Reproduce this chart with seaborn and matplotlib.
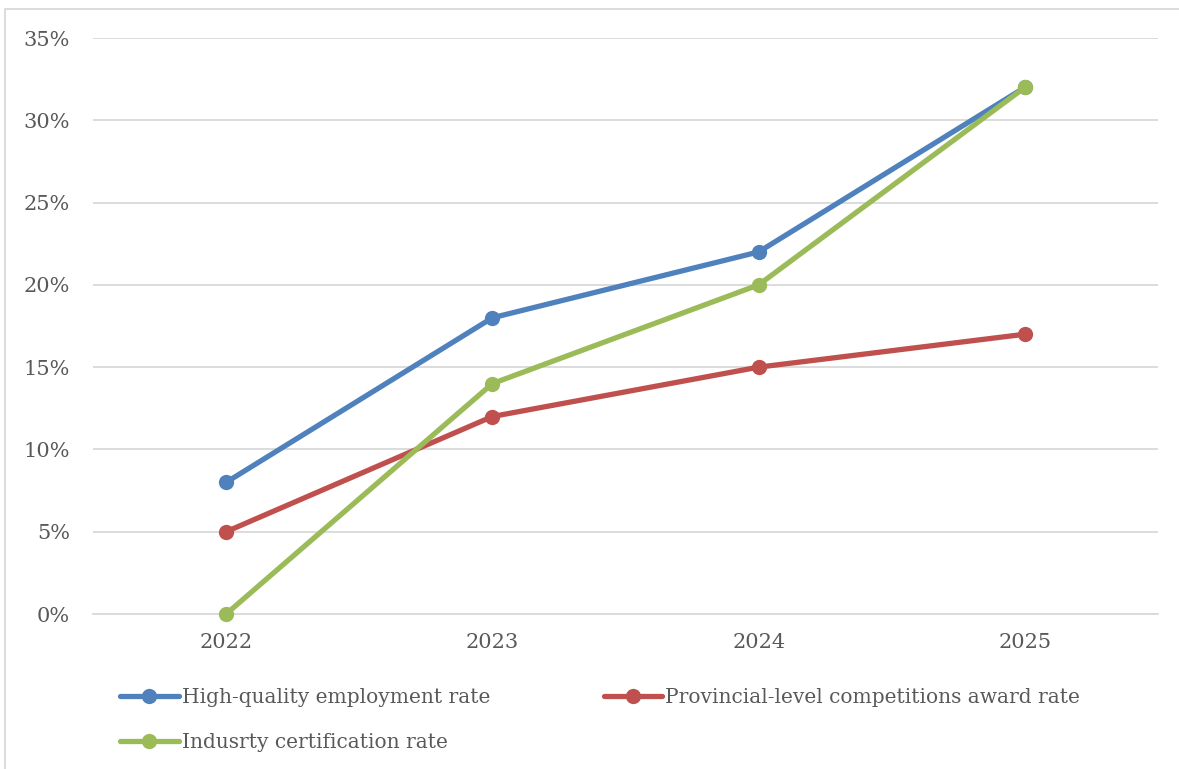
import pandas as pd
import seaborn as sns
import matplotlib.pyplot as plt
from matplotlib.patches import Rectangle
from matplotlib.ticker import PercentFormatter

# values (percent)
years = [2022, 2023, 2024, 2025]
employment = [8, 18, 22, 32]
competitions = [5, 12, 15, 17]
certification = [0, 14, 20, 32]

names = ["High-quality employment rate",
         "Provincial-level competitions award rate",
         "Indusrty certification rate"]
colors = ["#4F81BD", "#C0504D", "#9BBB59"]

df = pd.DataFrame({
    "year": years * 3,
    "rate": [v / 100 for v in employment + competitions + certification],
    "series": [names[0]] * 4 + [names[1]] * 4 + [names[2]] * 4,
})

sns.set_style("white")
plt.rcParams["font.family"] = ["DejaVu Serif"]
text_color = "#595959"

fig = plt.figure(figsize=(11.79, 7.69), dpi=100)
ax = fig.add_axes([93 / 1179, 1 - 614 / 769, (1158 - 93) / 1179, (614 - 38) / 769])

sns.lineplot(data=df, x="year", y="rate", hue="series", palette=colors,
             marker="o", markersize=11, markeredgewidth=0, linewidth=3.8,
             ax=ax, legend=False)
for line in ax.get_lines():
    line.set_clip_on(False)

ax.set_xlim(2021.5, 2025.5)
ax.set_ylim(0, 0.35)
ax.set_xticks(years)
ax.set_xticklabels([str(y) for y in years])
ax.set_yticks([i * 0.05 for i in range(8)])
ax.yaxis.set_major_formatter(PercentFormatter(1.0, decimals=0))
ax.grid(axis="y", color="#D9D9D9", linewidth=1.3)
ax.set_axisbelow(True)
for s in ["top", "right", "left"]:
    ax.spines[s].set_visible(False)
ax.spines["bottom"].set_color("#D9D9D9")
ax.spines["bottom"].set_linewidth(1.3)
ax.spines["bottom"].set_zorder(0)
ax.tick_params(axis="both", length=0, labelsize=15, colors=text_color)
ax.tick_params(axis="y", pad=16.5)
ax.tick_params(axis="x", pad=14)
ax.set_xlabel("")
ax.set_ylabel("")

# outer chart frame
fig.patches.append(Rectangle((5 / 1179, -0.1), 1.2, 1 - 9 / 769 + 0.1,
                             transform=fig.transFigure, fill=False,
                             edgecolor="#D9D9D9", linewidth=1.3))

# legend: row-major order across two columns
handles = ax.get_lines()[:3]
order = [0, 2, 1]
leg = fig.legend([handles[i] for i in order], [names[i] for i in order],
                 ncol=2, loc="upper left", bbox_to_anchor=(102 / 1179, 1 - 670 / 769),
                 frameon=False, fontsize=14.5, handlelength=2.9, handletextpad=0.15,
                 columnspacing=5.65, labelspacing=1.3, labelcolor=text_color)

fig.savefig("out.png", dpi=100)
